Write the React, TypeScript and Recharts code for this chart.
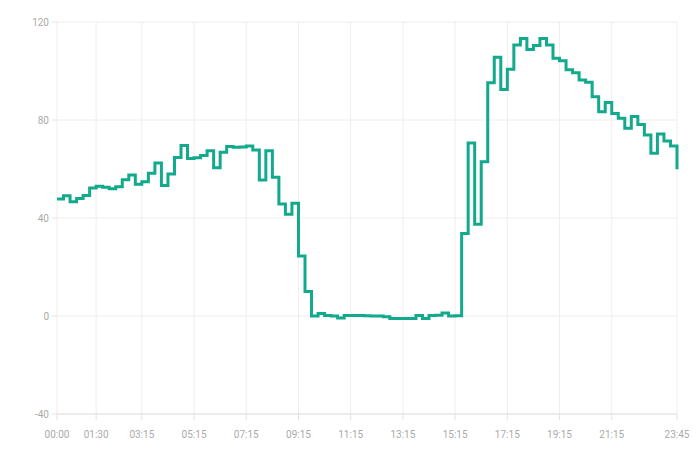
import React from "react";
import { LineChart, Line, XAxis, YAxis, CartesianGrid } from "recharts";

const times: string[] = [];
for (let h = 0; h < 24; h++) {
  for (let m = 0; m < 60; m += 15) {
    times.push(`${String(h).padStart(2, "0")}:${String(m).padStart(2, "0")}`);
  }
}

const values: number[] = [
  47.8, 49.1, 46.6, 48, 49.2, 52.2, 53, 52.6, 51.9, 52.8, 55.6, 57.6, 53.8, 54.8, 58.3, 62.5,
  53.3, 58, 64.7, 69.6, 64.3, 64.6, 65.5, 67.5, 60.5, 66.8, 69.2, 68.9, 69, 69.4, 67.8, 55.5,
  67.4, 56.6, 45.7, 41.5, 46, 24.5, 10, 0, 1, 0.2, 0, -0.8, 0.2, 0.2, 0.2, 0.1,
  0, 0, -0.3, -1, -1, -1, -1, 0.2, -1, 0.2, 0.3, 1.2, 0, 0.1, 33.7, 70.6,
  37.4, 63, 95.2, 105.6, 92.5, 100.7, 110.6, 113.3, 108.8, 110.4, 113.3, 110.6, 105.2, 104.2, 100.5, 99.3,
  96.3, 95.4, 89.5, 83.4, 87.1, 82.7, 80.7, 76.6, 81.4, 78.2, 73.9, 66.4, 74.3, 71.4, 69.4, 59.9,
];

const xTickLabels = ["00:00", "01:30", "03:15", "05:15", "07:15", "09:15", "11:15", "13:15", "15:15", "17:15", "19:15", "21:15", "23:45"];
const yTicks = [-40, 0, 40, 80, 120];

const data = values.map((v, i) => ({ idx: i, time: times[i], value: v }));
const xTicks = xTickLabels.map((t) => times.indexOf(t));

const tickStyle = { fill: "#aaaaaa", fontSize: 10, fontFamily: "Roboto, sans-serif" };

export default function App() {
  return (
    <LineChart
      width={684}
      height={435}
      data={data}
      margin={{ top: 14, right: 15, bottom: 0, left: 0 }}
    >
      <CartesianGrid stroke="#eeeeee" strokeWidth={1} />
      <XAxis
        dataKey="idx"
        type="number"
        domain={[0, values.length - 1]}
        ticks={xTicks}
        tickFormatter={(v: number) => times[v]}
        interval={0}
        height={29}
        tick={tickStyle}
        tickSize={6}
        tickMargin={11}
        tickLine={{ stroke: "#e2e2e2" }}
        axisLine={{ stroke: "#e2e2e2" }}
      />
      <YAxis
        type="number"
        domain={[-40, 120]}
        ticks={yTicks}
        interval={0}
        width={49}
        tick={tickStyle}
        tickSize={5}
        tickMargin={3}
        tickLine={{ stroke: "#e2e2e2" }}
        axisLine={false}
      />
      <Line
        type="stepAfter"
        dataKey="value"
        stroke="#12a98c"
        strokeWidth={3}
        dot={false}
        isAnimationActive={false}
      />
    </LineChart>
  );
}
